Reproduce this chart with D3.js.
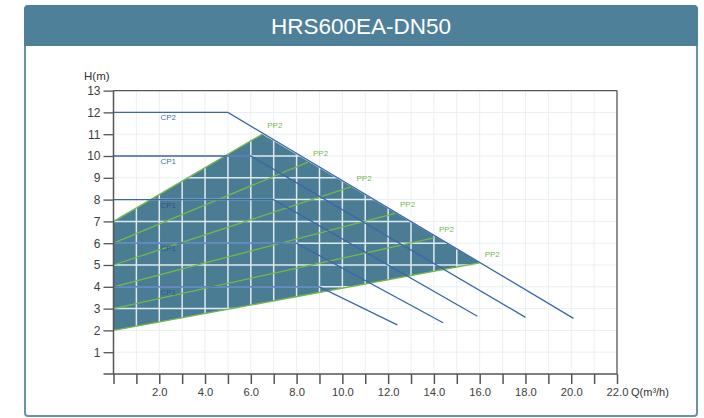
<!DOCTYPE html>
<html>
<head>
<meta charset="utf-8">
<script src="https://cdn.jsdelivr.net/npm/d3@7"></script>
<style>
  html, body { margin: 0; padding: 0; background: #ffffff; }
  svg { display: block; }
</style>
</head>
<body>
<svg id="chart" width="704" height="418"></svg>
<script>
// ---------- data ----------
const title = "HRS600EA-DN50";
const xTicks = d3.range(0, 23);          // Q ticks 0..22
const yTicks = d3.range(1, 14);          // H ticks 1..13
const xLabel = "Q(m³/h)";
const yLabel = "H(m)";

// constant-pressure (CP) curves: flat at level, knee, then falling to end
const cpNames  = ["CP2", "CP1", "CP1", "CP1", "CP1"];
const cpLevel  = [12, 10, 8, 6, 4];
const cpKneeQ  = [5, 6, 7, 8, 9];
const cpEndQ   = [20.1, 18.0, 15.9, 14.4, 12.4];
const cpEndH   = [2.55, 2.6, 2.65, 2.35, 2.25];

// proportional-pressure (PP) curves: from H at Q=0 to the max curve
const ppNames  = ["PP2", "PP2", "PP2", "PP2", "PP2", "PP2"];
const ppStartH = [7, 6, 5, 4, 3, 2];
const ppEndQ   = [6.5, 8.5, 10.4, 12.3, 14.0, 16.0];
const ppEndH   = [11.0, 9.72, 8.6, 7.37, 6.24, 5.1];

// operating region (shaded): top PP line, max curve, bottom PP line
const regionQ = [0, 6.5, 16.0, 0];
const regionH = [7, 11.0, 5.1, 2];

// ---------- layout ----------
const svg = d3.select("#chart");
const x = d3.scaleLinear().domain([0, 22]).range([113.5, 617]);
const y = d3.scaleLinear().domain([0, 13]).range([374, 90.6]);

const fillCol = "#4a7d93";
const blueCol = "#3a66ad";
const greenCol = "#74b84a";
const axisCol = "#555";
const font = "Liberation Sans, Arial, sans-serif";

// card
svg.append("rect").attr("x", 25).attr("y", 6).attr("width", 672).attr("height", 410)
  .attr("fill", "#fff").attr("stroke", "#6b93a6").attr("stroke-width", 2).attr("rx", 3);
svg.append("path")
  .attr("d", "M24,46 L24,10 Q24,5 29,5 L693,5 Q698,5 698,10 L698,46 Z")
  .attr("fill", "#4f8099");
svg.append("text").attr("x", 361).attr("y", 34).attr("text-anchor", "middle")
  .attr("font-family", font).attr("font-size", 22.5)
  .attr("fill", "#fff").text(title);

// faint grid
const grid = svg.append("g");
grid.selectAll("line.gx").data(xTicks.filter(d => d > 0 && d < 22)).join("line")
  .attr("x1", d => x(d)).attr("x2", d => x(d)).attr("y1", y(13)).attr("y2", y(0))
  .attr("stroke", "#e9eff3").attr("stroke-width", 1);
grid.selectAll("line.gy").data(yTicks.filter(d => d < 13)).join("line")
  .attr("x1", x(0)).attr("x2", x(22)).attr("y1", d => y(d)).attr("y2", d => y(d))
  .attr("stroke", "#e9eff3").attr("stroke-width", 1);

// shaded region
const regionPts = regionQ.map((q, i) => [x(q), y(regionH[i])]);
svg.append("clipPath").attr("id", "regionClip")
  .append("polygon").attr("points", regionPts.map(p => p.join(",")).join(" "));
svg.append("polygon").attr("points", regionPts.map(p => p.join(",")).join(" "))
  .attr("fill", fillCol);

// white grid inside region
const wgrid = svg.append("g").attr("clip-path", "url(#regionClip)");
wgrid.selectAll("line.wx").data(xTicks.filter(d => d > 0)).join("line")
  .attr("x1", d => x(d)).attr("x2", d => x(d)).attr("y1", y(13)).attr("y2", y(0))
  .attr("stroke", "#dfeaf0").attr("stroke-width", 1.5);
wgrid.selectAll("line.wy").data(yTicks).join("line")
  .attr("x1", x(0)).attr("x2", x(22)).attr("y1", d => y(d)).attr("y2", d => y(d))
  .attr("stroke", "#dfeaf0").attr("stroke-width", 1.5);

// PP lines
const line = d3.line().x(d => x(d[0])).y(d => y(d[1]));
ppStartH.forEach((h, i) => {
  svg.append("path").attr("d", line([[0, h], [ppEndQ[i], ppEndH[i]]]))
    .attr("fill", "none").attr("stroke", greenCol).attr("stroke-width", 1.3);
});

// CP lines
cpLevel.forEach((h, i) => {
  svg.append("path").attr("d", line([[0, h], [cpKneeQ[i], h], [cpEndQ[i], cpEndH[i]]]))
    .attr("fill", "none").attr("stroke", blueCol).attr("stroke-width", 1.3);
  svg.append("text").attr("x", x(0) + 47).attr("y", y(h) + 8)
    .attr("font-family", font).attr("font-size", 8)
    .attr("fill", i === 0 || i === 1 ? "#3f6fb5" : "#2f5590").text(cpNames[i]);
});

// PP labels
ppNames.forEach((n, i) => {
  svg.append("text").attr("x", x(ppEndQ[i]) + 5).attr("y", y(ppEndH[i]) - 6)
    .attr("font-family", font).attr("font-size", 8)
    .attr("fill", greenCol).text(n);
});

// frame top & right
svg.append("line").attr("x1", x(0)).attr("x2", x(22)).attr("y1", y(13)).attr("y2", y(13))
  .attr("stroke", axisCol).attr("stroke-width", 1.3);
svg.append("line").attr("x1", x(22)).attr("x2", x(22)).attr("y1", y(13)).attr("y2", y(0))
  .attr("stroke", axisCol).attr("stroke-width", 1.3);

// axes
const fmt = d3.format(".1f");
const xAxis = d3.axisBottom(x).tickValues(xTicks).tickSize(10).tickPadding(4)
  .tickFormat(d => (d > 0 && d % 2 === 0) ? fmt(d) : "");
const gx = svg.append("g").attr("transform", `translate(0,${y(0)})`).call(xAxis);
gx.select(".domain").remove();
gx.selectAll("line").attr("stroke", axisCol).attr("stroke-width", 1.5);
gx.selectAll("text").attr("font-family", font)
  .attr("font-size", 11.2).attr("fill", "#3d3d3d");
svg.append("line").attr("x1", x(0) - 10).attr("x2", x(22)).attr("y1", y(0)).attr("y2", y(0))
  .attr("stroke", axisCol).attr("stroke-width", 1.5);

const yAxis = d3.axisLeft(y).tickValues(yTicks).tickSize(10).tickPadding(3);
const gy = svg.append("g").attr("transform", `translate(${x(0)},0)`).call(yAxis);
gy.select(".domain").remove();
gy.selectAll("line").attr("stroke", axisCol).attr("stroke-width", 1.3);
gy.selectAll("text").attr("font-family", font)
  .attr("font-size", 12).attr("fill", "#3d3d3d");
svg.append("line").attr("x1", x(0)).attr("x2", x(0)).attr("y1", y(13)).attr("y2", y(0))
  .attr("stroke", axisCol).attr("stroke-width", 1.5);

// axis titles
svg.append("text").attr("x", 84).attr("y", 80)
  .attr("font-family", font).attr("font-size", 11.5)
  .attr("fill", "#333").text(yLabel);
svg.append("text").attr("x", x(22) + 14).attr("y", 396)
  .attr("font-family", font).attr("font-size", 11)
  .attr("fill", "#333").text(xLabel);
</script>
</body>
</html>
